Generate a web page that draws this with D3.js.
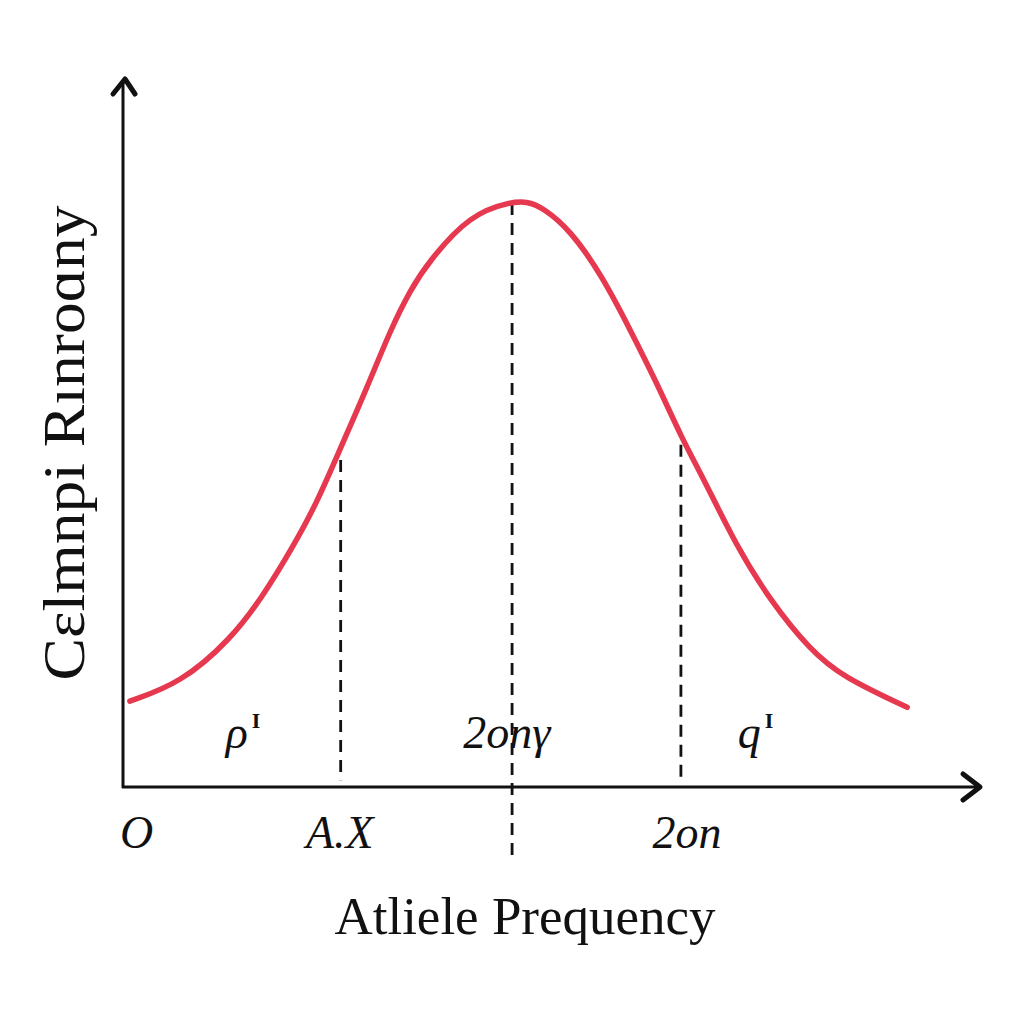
<!DOCTYPE html>
<html>
<head>
<meta charset="utf-8">
<script src="https://cdn.jsdelivr.net/npm/d3@7"></script>
<style>
  body { margin: 0; background: #fff; }
  text { font-family: "Liberation Serif", "DejaVu Serif", serif; fill: #111; }
</style>
</head>
<body>
<svg width="1024" height="1024"></svg>
<script>
const width = 1024;
const height = 1024;

// curve values (allele frequency, relative count)
const curveX = [0.008, 0.067, 0.125, 0.163, 0.198, 0.226, 0.253, 0.285, 0.312, 0.335, 0.358, 0.405, 0.452, 0.473, 0.490, 0.522, 0.560, 0.592, 0.623, 0.653, 0.677, 0.716, 0.755, 0.802, 0.840, 0.915];
const curveY = [0.125, 0.151, 0.214, 0.277, 0.349, 0.413, 0.491, 0.582, 0.665, 0.723, 0.767, 0.833, 0.852, 0.852, 0.843, 0.811, 0.742, 0.665, 0.588, 0.505, 0.450, 0.350, 0.272, 0.199, 0.160, 0.116];

// dashed guide lines
const guideX = [0.254, 0.454, 0.651];
const guideTop = [0.476, 0.85, 0.498];
const guideBottom = [0.01, -0.099, 0.01];

// labels inside the plot
const innerLabels = ["ρ", "2onγ", "q"];
const innerSup = ["I", "", "I"];
const innerX = [0.140, 0.448, 0.738];

// labels under the axis
const tickLabels = ["O", "A.X", "2on"];
const tickX = [0.016, 0.253, 0.658];

const xTitle = "Atliele Prequency";
const yTitle = "Cɛlmnpi Rınroɑny";

const svg = d3.select("svg")
  .attr("width", width)
  .attr("height", height);

const x = d3.scaleLinear().domain([0, 1]).range([123, 980]);
const y = d3.scaleLinear().domain([0, 1]).range([787, 100]);

//Axes with open arrow heads
svg.append("line")
  .attr("x1", x(0)).attr("y1", y(0) + 1)
  .attr("x2", x(0)).attr("y2", 82)
  .attr("stroke", "#111").attr("stroke-width", 3);
svg.append("line")
  .attr("x1", x(0) - 1).attr("y1", y(0))
  .attr("x2", x(1) - 2).attr("y2", y(0))
  .attr("stroke", "#111").attr("stroke-width", 3);

svg.append("path")
  .attr("d", `M${x(0) - 10},${94} L${x(0) + 2},${79} L${x(0) + 12},${94}`)
  .attr("fill", "none").attr("stroke", "#111")
  .attr("stroke-width", 5).attr("stroke-linecap", "round").attr("stroke-linejoin", "round");
svg.append("path")
  .attr("d", `M${x(1) - 17},${y(0) - 13} L${x(1)},${y(0)} L${x(1) - 17},${y(0) + 13}`)
  .attr("fill", "none").attr("stroke", "#111")
  .attr("stroke-width", 5).attr("stroke-linecap", "round").attr("stroke-linejoin", "round");

// Dashed guides
svg.selectAll(".guide")
  .data(guideX)
  .enter().append("line")
  .attr("class", "guide")
  .attr("x1", d => x(d)).attr("x2", d => x(d))
  .attr("y1", (d, i) => y(guideTop[i]))
  .attr("y2", (d, i) => y(guideBottom[i]))
  .attr("stroke", "#111")
  .attr("stroke-width", 2.8)
  .attr("stroke-dasharray", "12,8");

// Bell curve
const pts = curveX.map((d, i) => [d, curveY[i]]);
svg.append("path")
  .datum(pts)
  .attr("fill", "none")
  .attr("stroke", "#e63950")
  .attr("stroke-width", 5.5)
  .attr("stroke-linecap", "round")
  .attr("d", d3.line().x(d => x(d[0])).y(d => y(d[1])).curve(d3.curveBasis));

// Labels inside plot
const inner = svg.selectAll(".inner")
  .data(innerLabels)
  .enter().append("text")
  .attr("class", "inner")
  .attr("x", (d, i) => x(innerX[i]))
  .attr("y", 748)
  .attr("text-anchor", "middle")
  .attr("font-style", "italic")
  .attr("font-size", 46);
inner.append("tspan").text(d => d);
inner.append("tspan")
  .attr("dx", 4)
  .attr("dy", -20)
  .attr("font-size", 22)
  .attr("font-style", "normal")
  .attr("font-weight", "bold")
  .text((d, i) => innerSup[i]);

// Tick labels
svg.selectAll(".tick-label")
  .data(tickLabels)
  .enter().append("text")
  .attr("class", "tick-label")
  .attr("x", (d, i) => x(tickX[i]))
  .attr("y", 848)
  .attr("text-anchor", "middle")
  .attr("font-style", "italic")
  .attr("font-size", 46)
  .text(d => d);

// Axis titles
svg.append("text")
  .attr("x", 525)
  .attr("y", 934)
  .attr("text-anchor", "middle")
  .attr("font-size", 53)
  .text(xTitle);

svg.append("text")
  .attr("transform", "translate(84,443) rotate(-90)")
  .attr("text-anchor", "middle")
  .attr("font-size", 60)
  .attr("textLength", 475)
  .attr("lengthAdjust", "spacingAndGlyphs")
  .text(yTitle);
</script>
</body>
</html>
